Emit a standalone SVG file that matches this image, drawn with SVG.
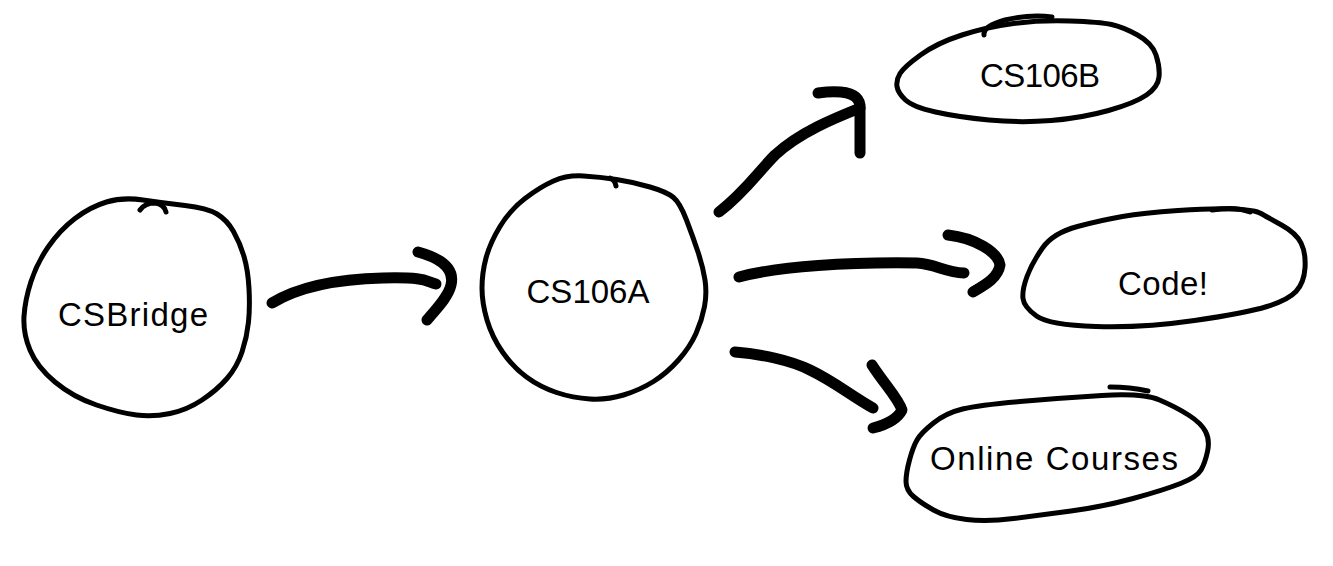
<svg xmlns="http://www.w3.org/2000/svg" width="1333" height="566" viewBox="0 0 1333 566">
<style>
.node{fill:none;stroke:#000;stroke-width:5;stroke-linecap:round;stroke-linejoin:round}
.arrow{fill:none;stroke:#000;stroke-width:11;stroke-linecap:round;stroke-linejoin:round}
.label{font-family:"Liberation Sans",Arial,sans-serif;font-size:33px;fill:#000;text-anchor:middle}
</style>
<rect width="1333" height="566" fill="#fff"/>
<g id="connectors">
<path class="arrow" d="M272,303 C300,286 340,279 383,278 S425,281 436,284"/>
<path class="arrow" d="M418,252 C440,258 455,268 451,285 C448,298 435,310 427,320"/>
<path class="arrow" d="M719,212 C745,192 758,172 775,155 C800,132 835,118 860,108"/>
<path class="arrow" d="M818,93 C840,90 858,92 860,105 L860,153"/>
<path class="arrow" d="M739,277 C780,266 850,262 917,263 C935,264 945,272 964,273"/>
<path class="arrow" d="M948,235 C975,238 998,252 1000,265 C998,278 985,285 973,292"/>
<path class="arrow" d="M735,352 C760,354 790,360 810,370 C835,382 850,395 873,408"/>
<path class="arrow" d="M872,365 C885,385 898,398 902,410 C897,420 885,425 873,428"/>
</g>
<g id="csbridge">
<path class="node" d="M143,200 Q163,203 185,205.5 Q207,208 217,214 Q227,220 233.5,231.5 Q240,243 244,256.5 Q248,270 249,288.5 Q250,307 248.5,322 Q247,337 242,352 Q237,367 227,378.5 Q217,390 202,400 Q187,410 170,413.5 Q153,417 136.5,415 Q120,413 96.5,405 Q73,397 55,382 Q37,367 30,350 Q23,333 24,316.5 Q25,300 31,281.5 Q37,263 48.5,246.5 Q60,230 75,218.5 Q90,207 106.5,202 Q123,197 143,200 Z"/>
<path class="node" d="M140,210 Q145,203 155,203 Q164,204 166,212"/>
<text class="label" x="133" y="326" textLength="150" lengthAdjust="spacing">CSBridge</text>
</g>
<g id="cs106a">
<path class="node" d="M583.5,176 Q600,177 616.5,179.5 Q633,182 650,187 Q667,192 673.5,197.5 Q680,203 686.5,220 Q693,237 698,252 Q703,267 705,280 Q707,293 704.5,306.5 Q702,320 696,333.5 Q690,347 678.5,360 Q667,373 653.5,381.5 Q640,390 623.5,395 Q607,400 590,399 Q573,398 556.5,392.5 Q540,387 526.5,377 Q513,367 502.5,352 Q492,337 487,320 Q482,303 482,288 Q482,273 486,258 Q490,243 500,226.5 Q510,210 525,198.5 Q540,187 553.5,181 Q567,175 583.5,176 Z"/>
<path class="node" d="M610,178 Q615,180 616,186"/>
<text class="label" x="588" y="303" textLength="123" lengthAdjust="spacing">CS106A</text>
</g>
<g id="cs106b">
<path class="node" d="M962,35 Q987,27 1013.5,23.5 Q1040,20 1070,21 Q1100,22 1111.5,24.5 Q1123,27 1137.5,35 Q1152,43 1156,55 Q1160,67 1159,77 Q1158,87 1146.5,95 Q1135,103 1108.5,110.5 Q1082,118 1051,120.5 Q1020,123 989,120 Q958,117 935.5,112 Q913,107 905.5,100 Q898,93 897,86.5 Q896,80 900,73.5 Q904,67 920.5,55 Q937,43 962,35 Z"/>
<path class="node" d="M984,35 Q983,26 1005,20 Q1030,14 1052,17"/>
<text class="label" x="1040" y="87" textLength="120" lengthAdjust="spacing">CS106B</text>
</g>
<g id="code">
<path class="node" d="M1122.5,216.5 Q1143,213 1178,210.5 Q1213,208 1234,209 Q1255,210 1261,213.5 Q1267,217 1281.5,225 Q1296,233 1301,243 Q1306,253 1305,268 Q1304,283 1296,291.5 Q1288,300 1267,306.5 Q1246,313 1194.5,320.5 Q1143,328 1096,326.5 Q1049,325 1036.5,316 Q1024,307 1023,298.5 Q1022,290 1027,276.5 Q1032,263 1042.5,248 Q1053,233 1077.5,226.5 Q1102,220 1122.5,216.5 Z"/>
<path class="node" d="M1212,210 Q1235,206 1250,212"/>
<text class="label" x="1163" y="295" textLength="90" lengthAdjust="spacing">Code!</text>
</g>
<g id="online-courses">
<path class="node" d="M962.5,409 Q979,405 1020,401.5 Q1061,398 1102,395.5 Q1143,393 1159.5,400 Q1176,407 1188.5,415 Q1201,423 1205.5,431.5 Q1210,440 1207.5,451.5 Q1205,463 1201,470 Q1197,477 1180.5,483.5 Q1164,490 1133,498.5 Q1102,507 1071,511 Q1040,515 1013.5,518.5 Q987,522 966.5,519.5 Q946,517 933.5,510 Q921,503 913.5,496.5 Q906,490 906,481.5 Q906,473 909.5,460 Q913,447 917,440 Q921,433 933.5,423 Q946,413 962.5,409 Z"/>
<path class="node" d="M1110,387 Q1130,387 1148,391"/>
<text class="label" x="1054" y="470" textLength="248" lengthAdjust="spacing">Online Courses</text>
</g>
</svg>
